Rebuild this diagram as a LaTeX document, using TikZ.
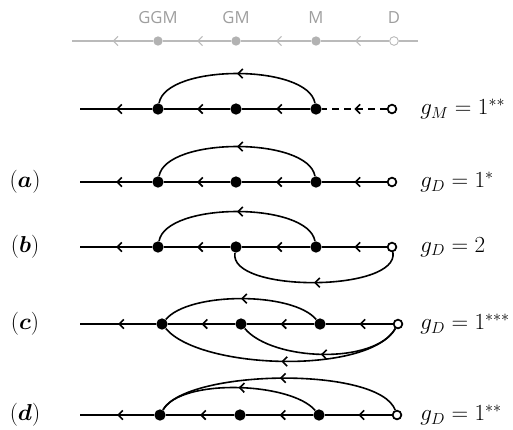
\documentclass[tikz,border=0pt]{standalone}
\usepackage{fontspec}
\newfontfamily\lblfont{Open Sans}
\usepackage{amsmath}
\usepackage{tikz}
\usetikzlibrary{arrows.meta, decorations.markings}
\tikzset{
  pt/.style  ={circle, fill, inner sep=0pt, minimum size=8.5pt},
  src/.style ={circle, draw, fill=white, line width=1.3pt, inner sep=0pt, minimum size=6.5pt},
  gpt/.style ={circle, fill=black!30, inner sep=0pt, minimum size=7pt},
  gsrc/.style={circle, draw=black!30, fill=white, line width=0.6pt, inner sep=0pt, minimum size=6.5pt},
  wr/.style  ={line width=1.2pt},
  gwr/.style ={line width=0.8pt, color=black!27},
  fl/.style  ={postaction={decorate}, decoration={markings, mark=at position 0.5 with {\arrow{Straight Barb[length=3.5pt,width=7pt]}}}},
  eq/.style  ={anchor=west, font=\fontsize{17}{20}\selectfont, inner sep=0pt},
  tag/.style ={font=\fontsize{17}{20}\selectfont, inner sep=0pt},
  gtag/.style={font=\lblfont\fontsize{12.5}{15}\selectfont, text=black!38},
}

\begin{document}
\begin{tikzpicture}[x=0.75pt, y=-0.75pt]
  \useasboundingbox (0,0) rectangle (513,429);

  % generations
  \coordinate (gl) at (72,41);
  \coordinate (gr) at (418,41);
  \node[gpt]  (ggm) at (158,41) {};
  \node[gpt]  (gm)  at (236,41) {};
  \node[gpt]  (mm)  at (316,41) {};
  \node[gsrc] (dd)  at (394,41) {};
  \node[gtag] at (158,18) {GGM};
  \node[gtag] at (236,18) {GM};
  \node[gtag] at (316,18) {M};
  \node[gtag] at (394,18) {D};
  \draw[gwr] (gr) -- (dd);
  \draw[gwr, fl] (dd) -- (mm);
  \draw[gwr, fl] (mm) -- (gm);
  \draw[gwr, fl] (gm) -- (ggm);
  \draw[gwr, fl] (ggm) -- (gl);

  % mother
  \coordinate (p0) at (80,109);
  \node[pt]  (p1) at (158,109) {};
  \node[pt]  (p2) at (236,109) {};
  \node[pt]  (p3) at (316,109) {};
  \node[src] (p4) at (392,109) {};
  \draw[wr, fl, dash pattern=on 5pt off 4pt] (p4) -- (p3);
  \draw[wr, fl] (p3) -- (p2);
  \draw[wr, fl] (p2) -- (p1);
  \draw[wr, fl] (p1) -- (p0);
  \draw[wr, fl] (p3) to[out=100, in=80, looseness=0.66] (p1);
  \node[eq] at (420,109) {$g_M = 1^{**}$};

  % (a)
  \coordinate (a0) at (80,182);
  \node[pt]  (a1) at (158,182) {};
  \node[pt]  (a2) at (236,182) {};
  \node[pt]  (a3) at (316,182) {};
  \node[src] (a4) at (392,182) {};
  \draw[wr, fl] (a4) -- (a3);
  \draw[wr, fl] (a3) -- (a2);
  \draw[wr, fl] (a2) -- (a1);
  \draw[wr, fl] (a1) -- (a0);
  \draw[wr, fl] (a3) to[out=100, in=80, looseness=0.66] (a1);
  \node[tag] at (25,182) {$(\boldsymbol{a})$};
  \node[eq] at (420,182) {$g_D = 1^{*}$};

  % (b)
  \coordinate (b0) at (80,247);
  \node[pt]  (b1) at (158,247) {};
  \node[pt]  (b2) at (236,247) {};
  \node[pt]  (b3) at (316,247) {};
  \node[src] (b4) at (392,247) {};
  \draw[wr, fl] (b4) -- (b3);
  \draw[wr, fl] (b3) -- (b2);
  \draw[wr, fl] (b2) -- (b1);
  \draw[wr, fl] (b1) -- (b0);
  \draw[wr, fl] (b3) to[out=100, in=80, looseness=0.66] (b1);
  \draw[wr, fl] (b4) to[out=-80, in=-100, looseness=0.66] (b2);
  \node[tag] at (25,247) {$(\boldsymbol{b})$};
  \node[eq] at (420,247) {$g_D = 2$};

  % (c)
  \coordinate (c0) at (80,324);
  \node[pt]  (c1) at (162,324) {};
  \node[pt]  (c2) at (241,324) {};
  \node[pt]  (c3) at (320,324) {};
  \node[src] (c4) at (398,324) {};
  \draw[wr, fl] (c4) -- (c3);
  \draw[wr, fl] (c3) -- (c2);
  \draw[wr, fl] (c2) -- (c1);
  \draw[wr, fl] (c1) -- (c0);
  \draw[wr, fl] (c3) to[out=130, in=50, looseness=0.62] (c1);
  \draw[wr, fl] (c4) to[out=-120, in=-50, looseness=0.72] (c2);
  \draw[wr, fl] (c4) to[out=-120, in=-50, looseness=0.6] (c1);
  \node[tag] at (25,324) {$(\boldsymbol{c})$};
  \node[eq] at (420,324) {$g_D = 1^{***}$};

  % (d)
  \coordinate (d0) at (80,415);
  \node[pt]  (d1) at (160,415) {};
  \node[pt]  (d2) at (240,415) {};
  \node[pt]  (d3) at (319,415) {};
  \node[src] (d4) at (397,415) {};
  \draw[wr, fl] (d4) -- (d3);
  \draw[wr, fl] (d3) -- (d2);
  \draw[wr, fl] (d2) -- (d1);
  \draw[wr, fl] (d1) -- (d0);
  \draw[wr, fl] (d3) to[out=130, in=60, looseness=0.62] (d1);
  \draw[wr, fl] (d4) to[out=110, in=60, looseness=0.52] (d1);
  \node[tag] at (25,415) {$(\boldsymbol{d})$};
  \node[eq] at (420,415) {$g_D = 1^{**}$};
\end{tikzpicture}
\end{document}
